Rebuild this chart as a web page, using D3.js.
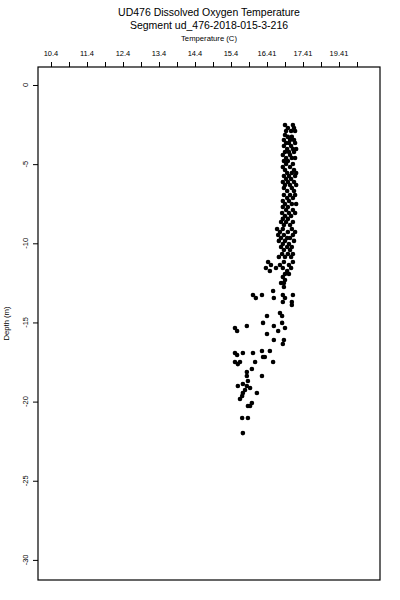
<!DOCTYPE html>
<html><head><meta charset="utf-8">
<script src="https://cdn.jsdelivr.net/npm/d3@7/dist/d3.min.js"></script>
<style>body{margin:0;background:#fff}svg{display:block}text{font-family:"Liberation Sans",Arial,sans-serif;fill:#000}</style>
</head><body>
<script>
const titleLines = ["UD476 Dissolved Oxygen Temperature", "Segment ud_476-2018-015-3-216"];
const xLabel = "Temperature (C)";
const yLabel = "Depth (m)";
const xTickValues = [10.4,10.9,11.4,11.9,12.4,12.9,13.4,13.9,14.4,14.9,15.4,15.9,16.4,16.9,17.4,17.9,18.4,18.9];
const xLabelValues = [10.4,11.4,12.4,13.4,14.4,15.4,16.4,17.4,18.4];
const xLabelTexts = ["10.4","11.4","12.4","13.4","14.4","15.4","16.41","17.41","19.41"];
const yTickValues = [0,-5,-10,-15,-20,-25,-30];

const depth = [
-2.53,-2.53,-2.72,-2.72,-2.91,-2.91,-2.91,-3.16,-3.28,-3.28,-3.47,-3.47,-3.47,-3.66,-3.66,-3.66,
-3.85,-3.85,-4.04,-4.04,-4.04,-4.23,-4.23,-4.23,-4.42,-4.42,-4.61,-4.61,-4.61,-4.80,-4.80,-4.99,-4.99,
-5.18,-5.18,-5.37,-5.37,-5.56,-5.56,-5.56,-5.75,-5.75,-5.75,-5.94,-5.94,-6.13,-6.13,-6.13,-6.32,-6.32,-6.32,
-6.51,-6.51,-6.70,-6.70,-6.95,-6.95,-6.95,-7.14,-7.14,-7.33,-7.33,-7.52,-7.52,-7.52,-7.71,-7.71,-7.90,-7.90,
-8.09,-8.09,-8.09,-8.28,-8.28,-8.46,-8.46,-8.65,-8.65,-8.65,-8.84,-8.84,-9.10,-9.10,-9.10,-9.29,-9.29,-9.29,
-9.48,-9.48,-9.48,-9.67,-9.67,-9.67,-9.85,-9.85,-9.85,-10.04,-10.04,-10.23,-10.23,-10.23,-10.42,-10.42,
-10.68,-10.68,-10.68,-10.87,-10.87,-10.87,-11.18,-11.18,-11.18,-11.37,-11.37,-11.37,-11.56,-11.56,-11.56,-11.56,
-11.75,-11.75,-11.94,-11.94,-12.13,-12.32,-12.51,-12.51,-12.76,-13.01,-13.27,-13.27,-13.27,-13.27,
-13.46,-13.46,-13.46,-13.71,-13.71,-13.90,-14.40,-14.59,-14.59,-15.03,-15.03,-15.22,-15.22,-15.35,-15.35,
-15.54,-15.54,-15.73,-16.11,-16.11,-16.36,-16.80,-16.80,-16.93,-16.93,-16.93,-17.06,-17.18,-17.18,
-17.50,-17.50,-17.50,-17.50,-17.63,-17.94,-18.13,-18.38,-18.38,-18.70,-18.89,-19.01,-19.01,-19.14,-19.27,
-19.46,-19.46,-19.65,-19.84,-20.09,-20.28,-20.28,-21.04,-21.04,-21.99];

const temperature = [
16.90,17.12,16.98,17.15,16.93,17.07,17.18,16.90,16.98,17.09,16.87,17.04,17.15,16.93,17.01,17.18,
16.87,17.07,16.96,17.12,17.21,16.90,17.01,17.15,16.84,17.04,16.93,17.09,17.18,16.87,16.98,16.93,17.12,
16.84,17.04,16.90,17.15,16.96,17.09,17.21,16.87,17.01,17.18,16.93,17.07,16.84,16.98,17.15,16.90,17.04,17.21,
16.87,17.09,16.96,17.15,16.87,17.04,17.18,16.96,17.12,16.84,17.01,16.90,17.09,17.21,16.84,16.98,16.93,17.12,
16.82,17.01,17.18,16.90,17.07,16.84,16.98,16.79,16.93,17.12,16.87,17.04,16.68,16.84,17.09,16.76,16.98,17.18,
16.71,16.87,17.12,16.79,16.96,17.04,16.73,16.90,17.15,16.84,17.01,16.79,16.96,17.09,16.87,17.04,
16.82,16.98,17.12,16.73,16.90,17.07,16.43,16.87,17.12,16.51,16.76,17.01,16.37,16.65,16.84,17.07,
16.48,16.96,16.90,17.01,16.84,16.90,16.79,16.87,16.87,16.57,16.01,16.26,16.84,17.12,
16.09,16.59,16.90,16.84,17.09,17.09,16.76,16.40,16.82,16.29,16.82,15.84,16.59,15.51,16.90,
15.57,16.71,16.40,16.59,16.87,16.84,16.26,16.48,15.51,15.73,16.01,15.57,16.29,16.34,
15.51,15.65,16.07,16.57,15.59,15.98,15.84,15.84,16.26,15.87,15.73,15.59,15.84,15.93,15.79,
15.73,16.12,15.71,15.65,15.98,15.93,15.87,15.71,15.87,15.73];

const W = 400, H = 600;
const m = {left: 38, right: 380, top: 67, bottom: 580};
const svg = d3.select("body").append("svg").attr("width", W).attr("height", H);

const x = d3.scaleLinear().domain([10.4 - 13/36, 10.4 + 329/36]).range([m.left, m.right]);
const y = d3.scaleLinear().domain([1.137, -31.27]).range([m.top, m.bottom]);

svg.append("rect").attr("x", m.left).attr("y", m.top)
  .attr("width", m.right - m.left).attr("height", m.bottom - m.top)
  .attr("fill", "none").attr("stroke", "#000").attr("stroke-width", 1.2);

// top axis
const xAxis = d3.axisTop(x).tickValues(xTickValues).tickSize(5).tickFormat("");
const gx = svg.append("g").attr("transform", `translate(0,${m.top})`).call(xAxis);
gx.select(".domain").remove();
gx.selectAll("line").attr("stroke", "#000").attr("stroke-width", 1);
svg.append("g").selectAll("text").data(xLabelValues).join("text")
  .attr("x", d => x(d)).attr("y", 56).attr("text-anchor", "middle")
  .attr("font-size", 7.5).text((d, i) => xLabelTexts[i]);

// left axis
const yAxis = d3.axisLeft(y).tickValues(yTickValues).tickSize(5).tickFormat("");
const gy = svg.append("g").attr("transform", `translate(${m.left},0)`).call(yAxis);
gy.select(".domain").remove();
gy.selectAll("line").attr("stroke", "#000").attr("stroke-width", 1);
svg.append("g").selectAll("text").data(yTickValues).join("text")
  .attr("transform", d => `translate(28,${y(d)}) rotate(-90)`)
  .attr("text-anchor", "middle").attr("font-size", 7.5).text(d => d);

// titles
svg.selectAll("text.title").data(titleLines).join("text").attr("class", "title")
  .attr("x", (m.left + m.right) / 2).attr("y", (d, i) => 16 + i * 13)
  .attr("text-anchor", "middle").attr("font-size", 10.5).text(d => d);
svg.append("text").attr("x", (m.left + m.right) / 2).attr("y", 41)
  .attr("text-anchor", "middle").attr("font-size", 7.7).text(xLabel);
svg.append("text").attr("transform", `translate(9,${(m.top + m.bottom) / 2}) rotate(-90)`)
  .attr("text-anchor", "middle").attr("font-size", 7.7).text(yLabel);

// points
svg.append("g").selectAll("circle").data(depth).join("circle")
  .attr("cx", (d, i) => x(temperature[i])).attr("cy", d => y(d))
  .attr("r", 2.3).attr("fill", "#000");
</script>
</body></html>
